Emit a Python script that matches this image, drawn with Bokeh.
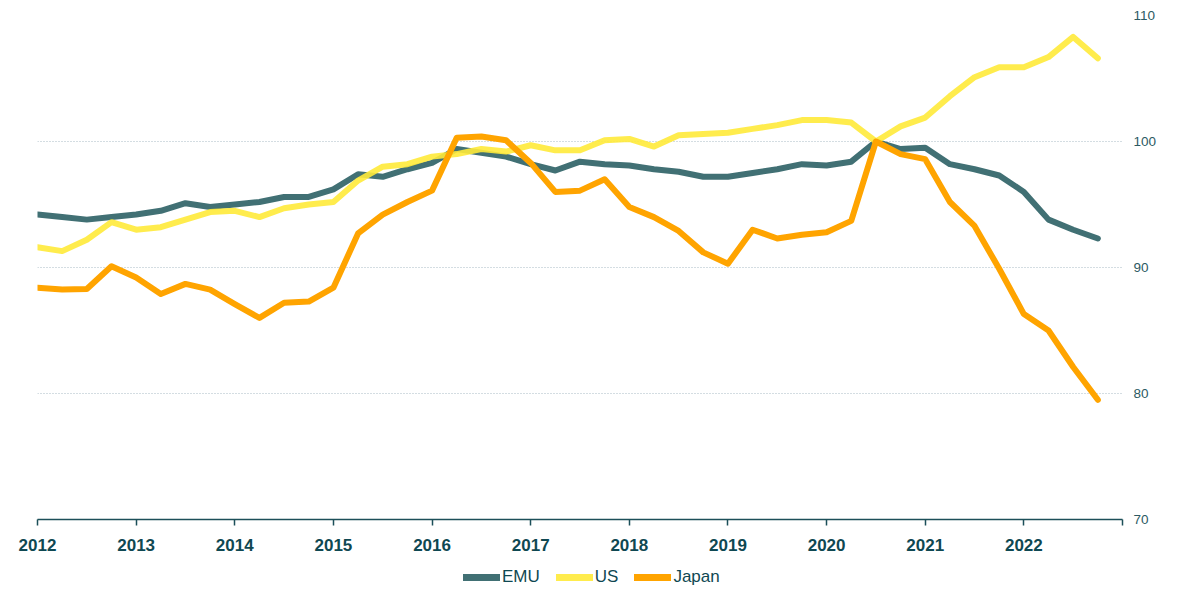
from bokeh.plotting import figure
from bokeh.layouts import column
from bokeh.models import Range1d, LinearAxis, FixedTicker, Legend, LegendItem
from bokeh.embed import file_html
from bokeh.resources import INLINE

# Quarterly observations, 2012 Q1 .. 2022 Q4
quarters = [2012 + i * 0.25 for i in range(44)]

emu = [94.2, 94.0, 93.8, 94.0, 94.2, 94.5, 95.1, 94.8, 95.0, 95.2, 95.6, 95.6,
       96.2, 97.4, 97.2, 97.8, 98.3, 99.4, 99.1, 98.8, 98.2, 97.7, 98.4, 98.2,
       98.1, 97.8, 97.6, 97.2, 97.2, 97.5, 97.8, 98.2, 98.1, 98.4, 100.0, 99.4,
       99.5, 98.2, 97.8, 97.3, 96.0, 93.8, 93.0, 92.3]

us = [91.6, 91.3, 92.2, 93.6, 93.0, 93.2, 93.8, 94.4, 94.5, 94.0, 94.7, 95.0,
      95.2, 96.9, 98.0, 98.2, 98.8, 99.0, 99.4, 99.2, 99.7, 99.3, 99.3, 100.1,
      100.2, 99.6, 100.5, 100.6, 100.7, 101.0, 101.3, 101.7, 101.7, 101.5, 100.0, 101.2,
      101.9, 103.6, 105.1, 105.9, 105.9, 106.7, 108.3, 106.6]

japan = [88.4, 88.25, 88.3, 90.1, 89.2, 87.9, 88.7, 88.25, 87.1, 86.0, 87.2, 87.3,
         88.4, 92.7, 94.2, 95.2, 96.1, 100.3, 100.4, 100.1, 98.3, 96.0, 96.1, 97.0,
         94.8, 94.0, 92.9, 91.2, 90.3, 93.0, 92.3, 92.6, 92.8, 93.7, 100.0, 99.0,
         98.6, 95.2, 93.3, 89.9, 86.3, 85.0, 82.1, 79.5]

year_ticks = list(range(2012, 2024))
y_ticks = [70, 80, 90, 100, 110]
series_names = ["EMU", "US", "Japan"]
series_colors = ["#417074", "#ffea3a", "#ffa400"]
series_alpha = [1.0, 0.9, 1.0]

TEXT = "#0f4852"
FONT = "Liberation Sans"

p = figure(width=1175, height=556, output_backend="svg", toolbar_location=None,
           x_range=Range1d(2012, 2023), y_range=Range1d(70, 110),
           y_axis_location=None, x_axis_location=None,
           min_border_left=37, min_border_top=15, min_border_right=53,
           min_border_bottom=37)
p.outline_line_color = None
p.background_fill_color = "white"
p.border_fill_color = "white"

# Axes
xaxis = LinearAxis(ticker=FixedTicker(ticks=year_ticks),
                   major_label_overrides={2023: ""})
xaxis.axis_line_color = "#1c4f59"
xaxis.axis_line_width = 1.5
xaxis.major_tick_line_color = "#1c4f59"
xaxis.major_tick_line_width = 1.5
xaxis.major_tick_out = 6
xaxis.major_tick_in = 0
xaxis.minor_tick_line_color = None
xaxis.major_label_standoff = 13
xaxis.major_label_text_font = FONT
xaxis.major_label_text_font_style = "bold"
xaxis.major_label_text_font_size = "17px"
xaxis.major_label_text_color = TEXT
p.add_layout(xaxis, "below")

yaxis = LinearAxis(ticker=FixedTicker(ticks=y_ticks))
yaxis.axis_line_color = None
yaxis.major_tick_line_color = None
yaxis.minor_tick_line_color = None
yaxis.major_label_standoff = 5
yaxis.major_label_text_font = FONT
yaxis.major_label_text_font_size = "13.5px"
yaxis.major_label_text_color = "#2c5a63"
p.add_layout(yaxis, "right")

p.xgrid.visible = False
p.ygrid.ticker = FixedTicker(ticks=y_ticks)
p.ygrid.grid_line_color = "#a9bac4"
p.ygrid.grid_line_dash = "1 2"
p.ygrid.grid_line_width = 1

for vals, col, alpha in zip([emu, us, japan], series_colors, series_alpha):
    p.line(quarters, vals, line_color=col, line_width=6, line_alpha=alpha,
           line_cap="round", line_join="round")

# Legend strip beneath the chart
lf = figure(width=1175, height=32, output_backend="svg", toolbar_location=None,
            x_axis_location=None, y_axis_location=None, min_border=0,
            x_range=Range1d(0, 1), y_range=Range1d(0, 1))
lf.outline_line_color = None
lf.xgrid.visible = False
lf.ygrid.visible = False
items = []
for name, col, alpha in zip(series_names, series_colors, series_alpha):
    r = lf.line([5, 6], [5, 6], line_color=col, line_width=7, line_alpha=alpha, line_cap="round")
    items.append(LegendItem(label=name, renderers=[r]))

legend = Legend(items=items, orientation="horizontal", location=(426, 1))
legend.glyph_width = 37
legend.glyph_height = 20
legend.label_standoff = 2
legend.spacing = 16
legend.padding = 0
legend.margin = 0
legend.border_line_color = None
legend.background_fill_alpha = 0
legend.label_text_font = FONT
legend.label_text_font_size = "17px"
legend.label_text_color = TEXT
lf.add_layout(legend, "center")

layout = column(p, lf, spacing=0)
open("out.html", "w").write(file_html(layout, INLINE))
